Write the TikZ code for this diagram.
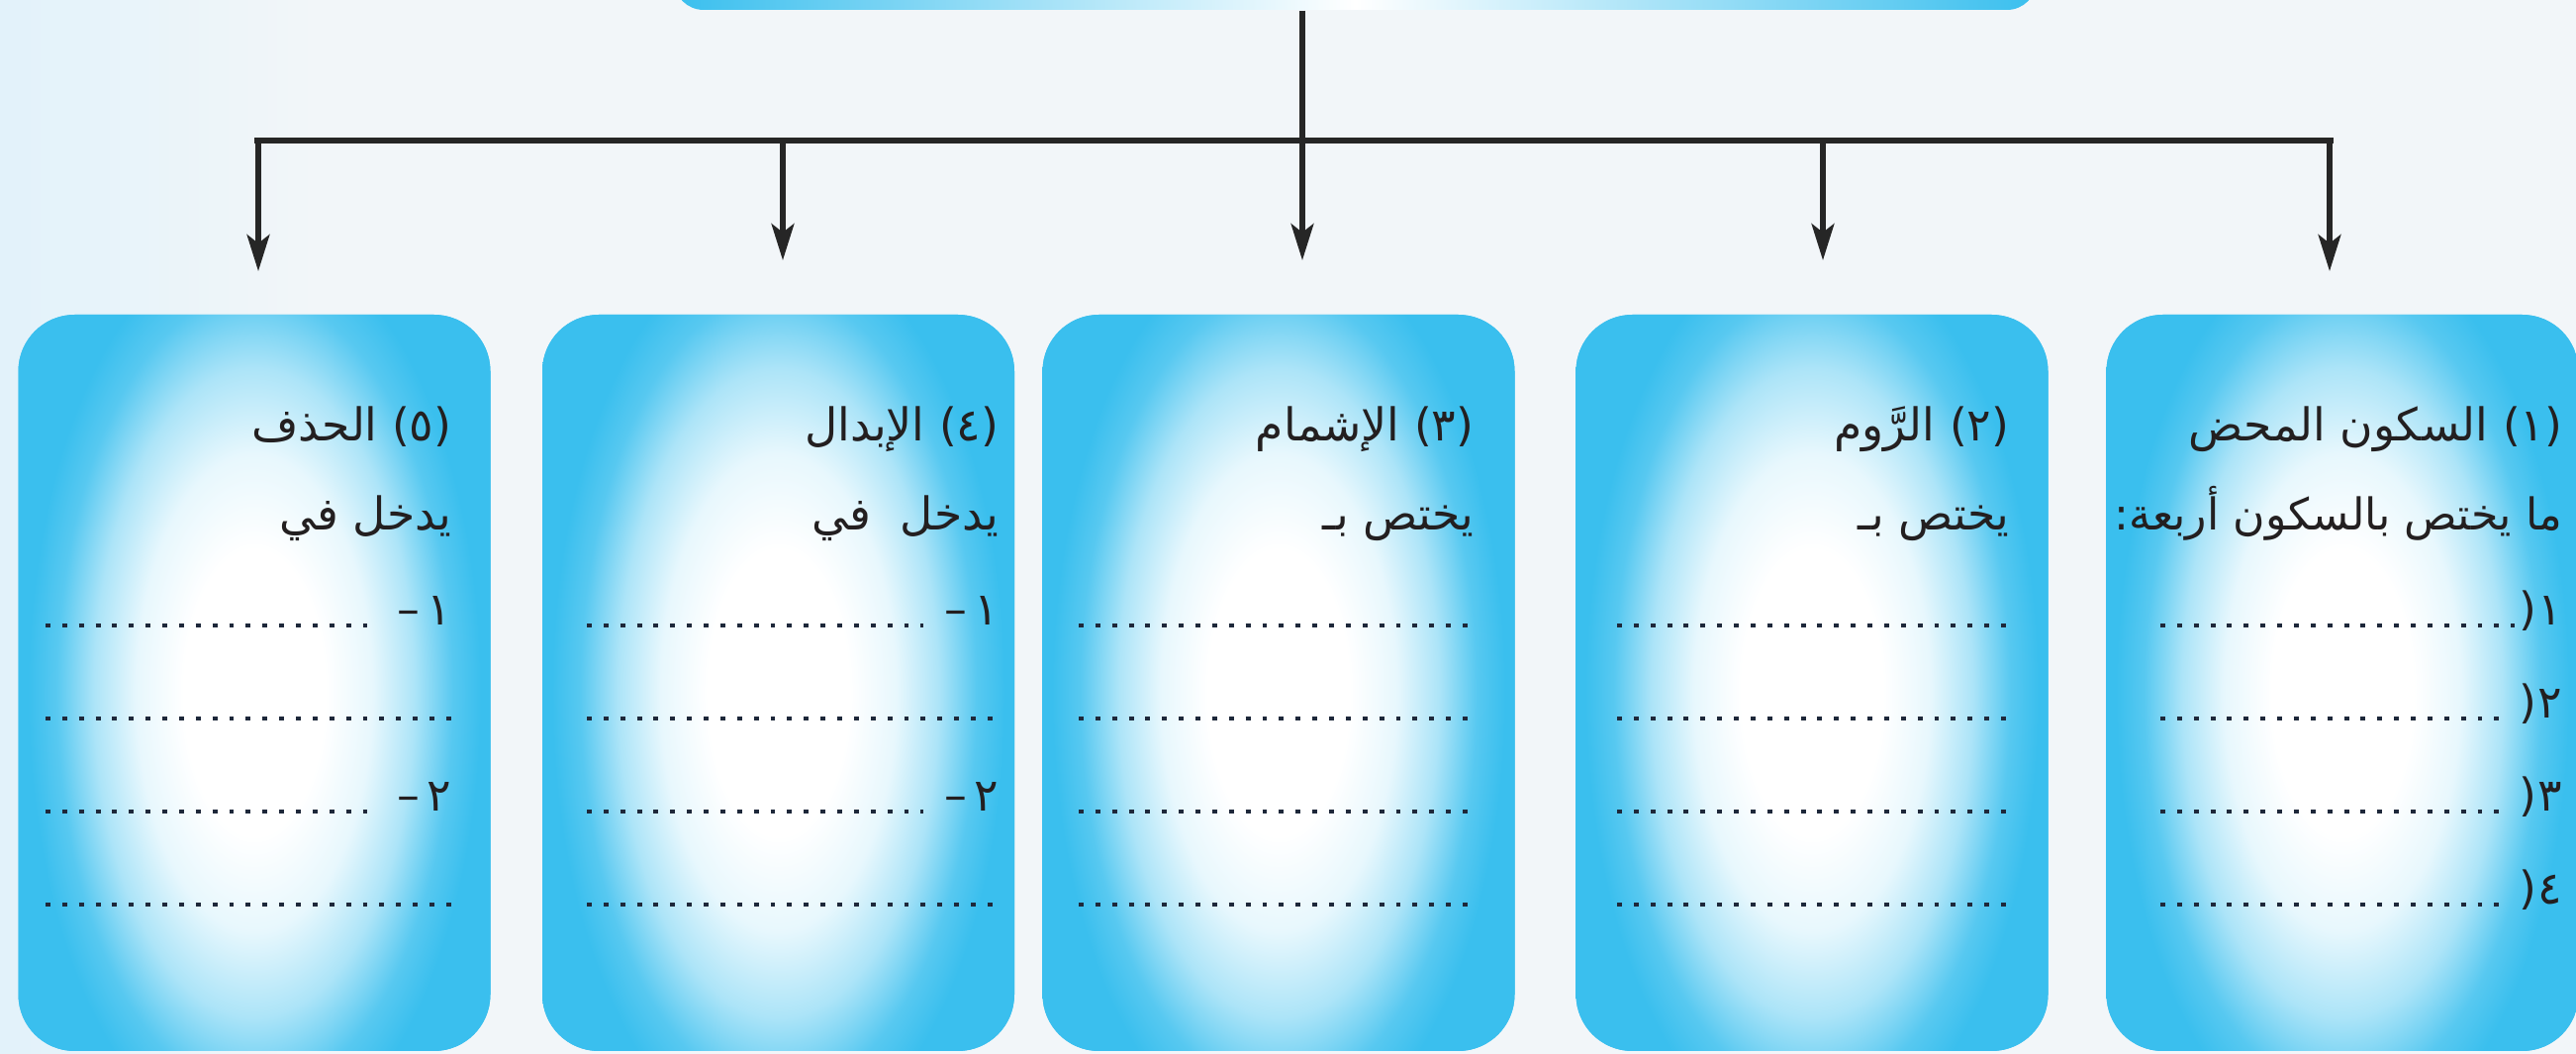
\documentclass[tikz,border=0pt]{standalone}
\usepackage{fontspec}
\newfontfamily\arabicfont[Script=Arabic]{DejaVu Sans}
\TeXXeTstate=1
\usetikzlibrary{arrows.meta}

\definecolor{cardcyan}{RGB}{58,191,238}
\definecolor{bgpale}{RGB}{242,246,249}
\definecolor{bgblue}{RGB}{226,242,250}
\definecolor{inkgray}{RGB}{35,31,32}
\definecolor{dotink}{RGB}{30,40,58}

\pgfdeclareradialshading{cardglow}{\pgfpoint{0bp}{0bp}}{color(0bp)=(white); color(7.5bp)=(white); color(12.5bp)=(cardcyan!12!white); color(17bp)=(cardcyan!42!white); color(21bp)=(cardcyan!85!white); color(24bp)=(cardcyan); color(50bp)=(cardcyan)}

\tikzset{
  card/.style={rounded corners=0.57cm, minimum width=4.77cm, minimum height=7.44cm, inner sep=0pt, fill=cardcyan,
    path picture={\shade[shading=cardglow] ([yshift=-1.2cm]path picture bounding box.south west) rectangle ([yshift=1cm]path picture bounding box.north east);}},
  topbar/.style={rounded corners=0.3cm, minimum width=13.77cm, minimum height=1.1cm, inner sep=0pt, left color=cardcyan, right color=cardcyan, middle color=white},
  lbl/.style={anchor=base east, inner sep=0pt, text=inkgray, font=\arabicfont\fontsize{13}{15}\selectfont},
  blank/.style={dotink, line width=1.4pt, dash pattern=on 1.4pt off 3.4pt},
  trunk/.style={line width=1.8pt, black!85},
  branch/.style={line width=1.5pt, black!85, -{Stealth[length=10.5pt,width=6.5pt,inset=2.5pt]}}
}

\begin{document}
\begin{tikzpicture}[x=0.1mm,y=-0.1mm]
\clip (0,0) rectangle (2603,1065);
\useasboundingbox (0,0) rectangle (2603,1065);

% background
\fill[bgpale] (0,0) rectangle (2603,1065);
\shade[left color=bgblue, right color=bgpale] (0,0) rectangle (320,1065);

% header bar (cut by the top edge)
\node[topbar] (head) at (1369.5,-45) {};

% cards
\node[card] (b1) at (2367,690) {};
\node[card] (b2) at (1831,690) {};
\node[card] (b3) at (1292,690) {};
\node[card] (b4) at (786.5,690) {};
\node[card] (b5) at (257,690) {};

% tree of arrows
\coordinate (fork) at (1316,142);
\draw[trunk] (head.south -| fork) -- (fork);
\foreach \n/\x/\y in {1/2354/274, 2/1842/263, 3/1316/263, 4/791/263, 5/261/274} {
\coordinate (t\n) at (\x,142);
\coordinate (a\n) at (\x,\y);
\draw[branch] (t\n) -- (a\n);
}
\draw[trunk] ([xshift=-1pt]t5) -- ([xshift=1pt]t1);

% (1)
\node[lbl] (b1h) at (2590,446) {\beginR(١) السكون المحض\endR};
\node[lbl, font=\arabicfont\fontsize{12.6}{15}\selectfont] (b1s) at (2590,536) {\beginR ما يختص بالسكون أربعة:\endR};
\foreach \i/\k/\y/\g in {1/١/632/1pt, 2/٢/726/4pt, 3/٣/820/4pt, 4/٤/914/4pt} {
\node[lbl] (b1n\i) at (2590,\y) {(\kern0.5pt\k};
\draw[blank] (2183,\y) -- ([xshift=-\g]b1n\i.base west);
}

% (2)
\node[lbl] (b2h) at (2031,446) {\beginR(٢) الرَّوم\endR};
\node[lbl] (b2s) at (2031,536) {\beginR يختص بـ\endR};
\foreach \y in {632,726,820,914} {
\draw[blank] (1634,\y) -- (2031,\y);
}

% (3)
\node[lbl] (b3h) at (1490,446) {\beginR(٣) الإشمام\endR};
\node[lbl] (b3s) at (1490,536) {\beginR يختص بـ\endR};
\foreach \y in {632,726,820,914} {
\draw[blank] (1090,\y) -- (1490,\y);
}

% (4)
\node[lbl] (b4h) at (1010,446) {\beginR(٤) الإبدال\endR};
\node[lbl] (b4s) at (1010,536) {\beginR يدخل\ \ في\endR};
\foreach \i/\k/\y in {1/١/632, 2/٢/820} {
\node[lbl] (b4n\i) at (1010,\y) {–\kern2pt\k};
\draw[blank] (593,\y) -- ([xshift=-6pt]b4n\i.base west);
}
\foreach \y in {726,914} {
\draw[blank] (593,\y) -- (1010,\y);
}

% (5)
\node[lbl] (b5h) at (457,446) {\beginR(٥) الحذف\endR};
\node[lbl] (b5s) at (457,536) {\beginR يدخل في\endR};
\foreach \i/\k/\y in {1/١/632, 2/٢/820} {
\node[lbl] (b5n\i) at (457,\y) {–\kern2pt\k};
\draw[blank] (46,\y) -- ([xshift=-6pt]b5n\i.base west);
}
\foreach \y in {726,914} {
\draw[blank] (46,\y) -- (457,\y);
}

\end{tikzpicture}
\end{document}
